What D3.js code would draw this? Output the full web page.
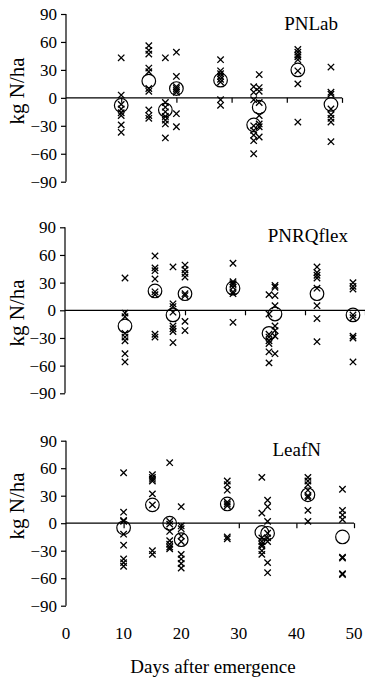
<!DOCTYPE html>
<html>
<head>
<meta charset="utf-8">
<script src="https://cdn.jsdelivr.net/npm/d3@7"></script>
<style>
  body { margin: 0; background: #fff; }
  svg text { font-family: "Liberation Serif", "Times New Roman", serif; fill: #000; }
</style>
</head>
<body>
<svg width="365" height="678"></svg>
<script>
// sampling days (days after emergence)
var days = [10, 15, 18, 20, 28, 34, 35, 42, 48];
var yTicks = [-90, -60, -30, 0, 30, 60, 90];
var xTicks = [0, 10, 20, 30, 40, 50];

// individual deviations (kg N/ha), one list per day
var pnlabPts = [
    [43, 3, -7, -12, -16, -19, -29, -37],
    [56, 51, 47, 32, 28, 10, 7, -13, -19, -22],
    [43, -5, -10, -15, -20, -24, -28, -43],
    [49, 23, 12, 10, 8, 6, -17, -31],
    [41, 29, 26, 23, 20, 17, -2, -8],
    [12, 6, -2, -30, -35, -40, -46, -60],
    [25, 11, 7, -5, -19, -28, -31, -42],
    [52, 49, 46, 44, 41, 29, 15, -26],
    [33, 6, 4, -12, -18, -22, -26, -47]
];
var pnlabMean = [-8, 18, -13, 10, 19, -29, -10, 30, -7];

var pnrqPts = [
    [35, -3, -7, -25, -29, -33, -47, -56],
    [59, 46, 43, 34, 20, 17, -26, -29],
    [47, 7, 4, -2, -17, -20, -23, -35],
    [49, 44, 40, 36, 18, 16, -12, -22],
    [51, 31, 29, 28, 25, 20, 18, -13],
    [17, -4, -26, -29, -33, -36, -45, -57],
    [27, 25, 16, 5, -17, -22, -28, -47],
    [47, 41, 38, 35, 24, 5, -9, -34],
    [30, 26, 23, -5, -8, -28, -30, -56]
];
var pnrqMean = [-17, 21, -5, 18, 24, -25, -4, 18, -5];

var leafPts = [
    [55, 12, 3, 2, -12, -24, -39, -43, -47],
    [53, 50, 48, 46, 32, 20, -30, -34],
    [66, 2, -1, -9, -19, -23, -26, -28],
    [18, -3, -6, -14, -20, -34, -39, -44, -49],
    [46, 42, 36, 23, 21, 19, -15, -17],
    [50, 11, -16, -20, -23, -25, -30, -34],
    [25, 18, 2, -11, -16, -20, -43, -54],
    [50, 46, 42, 36, 30, 28, 14, 2],
    [37, 14, 9, 4, -37, -38, -55, -56]
];
var leafMean = [-5, 20, 0, -18, 21, -10, -11, 31, -15];

var panels = [
    { name: "PNLab",    pts: pnlabPts, mean: pnlabMean, x0: 66, x1: 342, top: 14,    bot: 181.7, nameX: 338, nameY: 30,  labY: 91 },
    { name: "PNRQflex", pts: pnrqPts,  mean: pnrqMean,  x0: 65, x1: 365, top: 227.3, bot: 393.3, nameX: 348, nameY: 242, labY: 313 },
    { name: "LeafN",    pts: leafPts,  mean: leafMean,  x0: 66, x1: 354, top: 440.7, bot: 605.7, nameX: 321, nameY: 456, labY: 506 }
];

var svg = d3.select("svg");

panels.forEach(function(p, pi) {
    var x = d3.scaleLinear().domain([0, 50]).range([p.x0, p.x1]);
    var y = d3.scaleLinear().domain([-90, 90]).range([p.bot, p.top]);
    var g = svg.append("g");

    // y axis
    var ya = g.append("g")
        .attr("transform", "translate(" + p.x0 + ",0)")
        .call(d3.axisLeft(y).tickValues(yTicks).tickSize(5).tickPadding(4));
    ya.select(".domain").attr("d", "M0," + y(-90) + "V" + y(90)).attr("stroke-width", 1.2);
    ya.selectAll(".tick line").attr("stroke-width", 1.2);
    ya.selectAll("text").style("font-size", "17px");

    // x axis along zero line
    var xa = g.append("g")
        .attr("transform", "translate(0," + y(0) + ")")
        .call(d3.axisBottom(x).tickValues(xTicks.slice(1)).tickSize(5).tickFormat(""));
    xa.select(".domain").attr("d", "M" + x(0) + ",0H" + x(50)).attr("stroke-width", 1.2);
    xa.selectAll(".tick line").attr("stroke-width", 1.2);

    // y label
    g.append("text")
        .attr("transform", "translate(24," + p.labY + ") rotate(-90)")
        .attr("text-anchor", "middle")
        .style("font-size", "21px")
        .text("kg N/ha");

    // panel name
    g.append("text")
        .attr("x", p.nameX).attr("y", p.nameY)
        .attr("text-anchor", "end")
        .style("font-size", "19px")
        .text(p.name);

    // crosses
    var flat = [];
    p.pts.forEach(function(list, i) {
        list.forEach(function(v) { flat.push({ d: days[i], v: v }); });
    });
    var s = 3.2;
    g.append("g").selectAll("path.cross")
        .data(flat)
        .join("path")
        .attr("class", "cross")
        .attr("d", function(d) {
            var cx = x(d.d), cy = y(d.v);
            return "M" + (cx - s) + "," + (cy - s) + "L" + (cx + s) + "," + (cy + s) +
                   "M" + (cx - s) + "," + (cy + s) + "L" + (cx + s) + "," + (cy - s);
        })
        .attr("stroke", "#000")
        .attr("stroke-width", 1.3)
        .attr("fill", "none");

    // means
    g.append("g").selectAll("circle")
        .data(p.mean)
        .join("circle")
        .attr("cx", function(d, i) { return x(days[i]); })
        .attr("cy", function(d) { return y(d); })
        .attr("r", 6.8)
        .attr("fill", "none")
        .attr("stroke", "#000")
        .attr("stroke-width", 1.2);

    // bottom panel: tick labels and title
    if (pi === panels.length - 1) {
        g.append("g").selectAll("text")
            .data(xTicks)
            .join("text")
            .attr("x", function(d) { return x(d); })
            .attr("y", 639)
            .attr("text-anchor", "middle")
            .style("font-size", "17px")
            .text(function(d) { return d; });
        g.append("text")
            .attr("x", (x(0) + x(50)) / 2 + 3)
            .attr("y", 673)
            .attr("text-anchor", "middle")
            .style("font-size", "19px")
            .text("Days after emergence");
    }
});
</script>
</body>
</html>
